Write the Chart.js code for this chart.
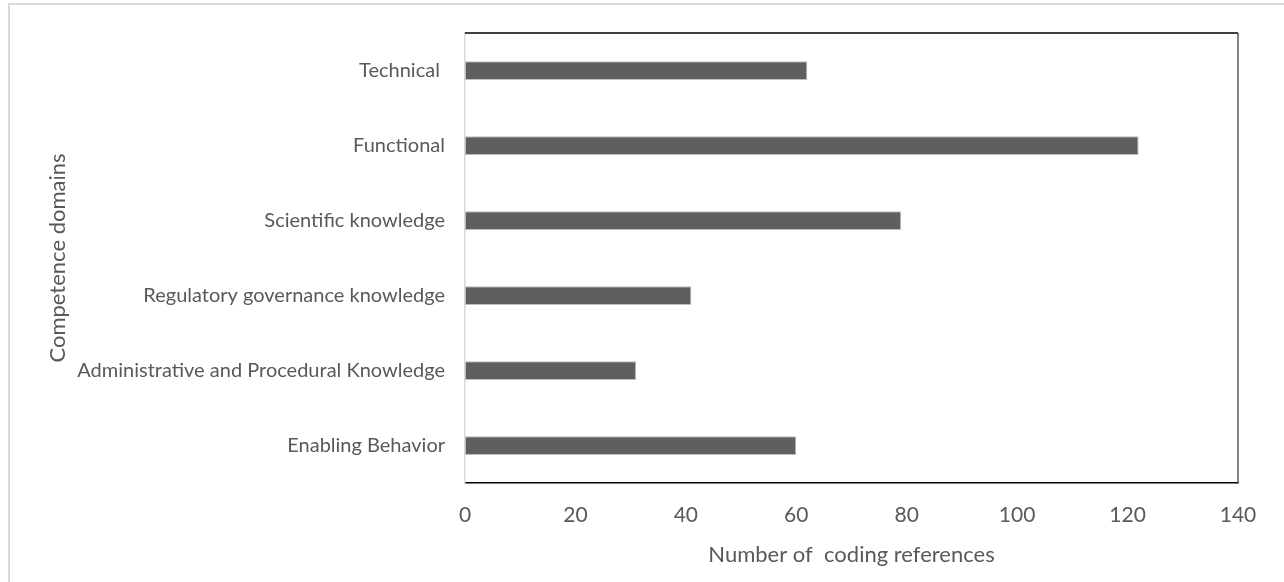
<!DOCTYPE html>
<html>
<head>
<meta charset="utf-8">
<script src="https://cdn.jsdelivr.net/npm/chart.js@4.4.1/dist/chart.umd.min.js"></script>
<style>
  html, body { margin: 0; padding: 0; background: #ffffff; }
  #wrap { position: relative; width: 1284px; height: 582px; }
</style>
</head>
<body>
<div id="wrap"><canvas id="c" width="1284" height="582"></canvas></div>
<script>
const categories = [
  "Technical ",
  "Functional",
  "Scientific knowledge",
  "Regulatory governance knowledge",
  "Administrative and Procedural Knowledge",
  "Enabling Behavior"
];
const codingReferences = [62, 122, 79, 41, 31, 60];
const xTickValues = [0, 20, 40, 60, 80, 100, 120, 140];
const xAxisTitle = "Number of  coding references";
const yAxisTitle = "Competence domains";

const FONT = "Lato, 'Open Sans', 'Noto Sans', sans-serif";
const TEXT = "#595959";

const framePlugin = {
  id: 'frame',
  beforeDraw(chart) {
    const ctx = chart.ctx;
    ctx.save();
    ctx.fillStyle = '#ffffff';
    ctx.fillRect(0, 0, chart.width, chart.height);
    ctx.strokeStyle = '#d9d9d9';
    ctx.lineWidth = 2;
    ctx.beginPath();
    ctx.moveTo(9, chart.height);
    ctx.lineTo(9, 4);
    ctx.lineTo(chart.width, 4);
    ctx.stroke();
    ctx.restore();
  },
  afterDatasetsDraw(chart) {
    const a = chart.chartArea;
    const ctx = chart.ctx;
    ctx.save();
    ctx.lineWidth = 1.5;
    ctx.strokeStyle = '#000000';
    ctx.beginPath();
    ctx.moveTo(a.left, a.top);
    ctx.lineTo(a.right, a.top);
    ctx.stroke();
    ctx.strokeStyle = '#595959';
    ctx.beginPath();
    ctx.moveTo(a.right, a.top);
    ctx.lineTo(a.right, a.bottom);
    ctx.stroke();
    ctx.restore();
  }
};

new Chart(document.getElementById('c'), {
  type: 'bar',
  data: {
    labels: categories,
    datasets: [{
      data: codingReferences,
      backgroundColor: '#5f5f5f',
      borderColor: '#bfbfbf',
      borderWidth: 1,
      borderSkipped: false,
      barPercentage: 0.25,
      categoryPercentage: 1.0
    }]
  },
  options: {
    indexAxis: 'y',
    responsive: false,
    animation: false,
    devicePixelRatio: 1,
    layout: { padding: { top: 33, right: 46, left: 0, bottom: 0 } },
    plugins: {
      legend: { display: false },
      tooltip: { enabled: false }
    },
    scales: {
      x: {
        min: 0,
        max: 140,
        afterBuildTicks(scale) {
          scale.ticks = xTickValues.map(v => ({ value: v }));
        },
        afterFit(scale) { scale.height = 99; },
        grid: { display: false, drawTicks: false },
        border: { display: true, color: '#000000', width: 1.5 },
        ticks: {
          padding: 20,
          color: TEXT,
          font: { family: FONT, size: 21 }
        },
        title: {
          display: true,
          text: xAxisTitle,
          color: TEXT,
          font: { family: FONT, size: 22 },
          padding: { top: 0, bottom: 14 }
        }
      },
      y: {
        afterFit(scale) { scale.width = 465; },
        grid: { display: false, drawTicks: false },
        border: { display: true, color: '#d9d9d9', width: 1.5 },
        ticks: {
          padding: 20,
          color: TEXT,
          font: { family: FONT, size: 20 }
        },
        title: {
          display: true,
          text: yAxisTitle,
          color: TEXT,
          font: { family: FONT, size: 22 },
          padding: { top: 45, bottom: 0 }
        }
      }
    }
  },
  plugins: [framePlugin]
});
</script>
</body>
</html>
